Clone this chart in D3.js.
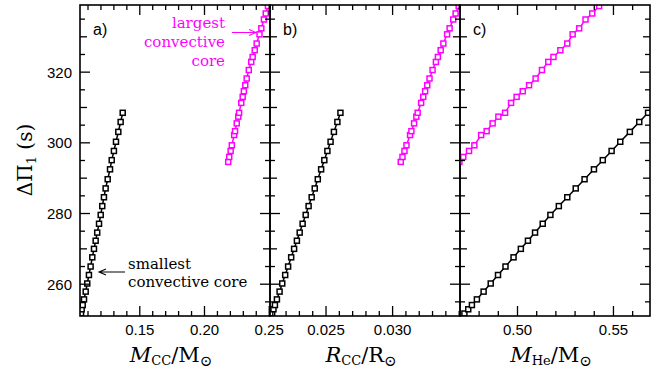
<!DOCTYPE html>
<html>
<head>
<meta charset="utf-8">
<script src="https://cdn.jsdelivr.net/npm/d3@7"></script>
<style>
  body { margin: 0; background: #fff; }
  text { fill: #000; }
</style>
</head>
<body>
<svg id="chart" width="666" height="372"></svg>
<script>
// smallest convective core sequence (black)
const dpiSmall = [251.7, 252.9, 254.1, 255.7, 257.9, 260.2, 262.6, 265.0, 267.6, 270.0, 272.3, 274.6, 277.1,
  279.6, 282.1, 284.6, 287.1, 289.7, 292.5, 295.1, 297.7, 300.3, 303.1, 305.9, 308.5];
const mccSmall = [0.1050, 0.1055, 0.1063, 0.1073, 0.1086, 0.1098, 0.1111, 0.1124, 0.1137, 0.1150, 0.1163, 0.1175, 0.1189,
  0.1202, 0.1214, 0.1227, 0.1240, 0.1256, 0.1274, 0.1287, 0.1304, 0.1320, 0.1338, 0.1356, 0.1372];
const rccSmall = [0.02099, 0.02109, 0.02120, 0.02135, 0.02155, 0.02175, 0.02197, 0.02219, 0.02242, 0.02264, 0.02285, 0.02306, 0.02328,
  0.02351, 0.02373, 0.02396, 0.02419, 0.02442, 0.02467, 0.02491, 0.02514, 0.02538, 0.02563, 0.02589, 0.02612];
const mheSmall = [0.4726, 0.4746, 0.4765, 0.4791, 0.4826, 0.4863, 0.4901, 0.4940, 0.4982, 0.5020, 0.5057, 0.5094, 0.5134,
  0.5174, 0.5218, 0.5262, 0.5306, 0.5352, 0.5401, 0.5447, 0.5493, 0.5538, 0.5588, 0.5637, 0.5683];

// largest convective core sequence (magenta)
const dpiLarge = [294.6, 296.0, 297.7, 299.3, 302.2, 303.3, 305.5, 307.4, 308.5, 311.3, 313.0, 314.6, 316.3,
  318.2, 320.6, 322.9, 324.3, 326.2, 328.1, 330.7, 332.4, 334.9, 336.6, 338.7, 340.8];
const mccLarge = [0.2187, 0.2195, 0.2206, 0.2215, 0.2233, 0.2240, 0.2253, 0.2265, 0.2271, 0.2288, 0.2299, 0.2308, 0.2319,
  0.2330, 0.2346, 0.2365, 0.2376, 0.2392, 0.2407, 0.2429, 0.2443, 0.2463, 0.2477, 0.2494, 0.2511];
const rccLarge = [0.03065, 0.03078, 0.03093, 0.03108, 0.03135, 0.03145, 0.03165, 0.03182, 0.03192, 0.03218, 0.03234, 0.03248, 0.03264,
  0.03281, 0.03304, 0.03329, 0.03344, 0.03365, 0.03385, 0.03413, 0.03432, 0.03459, 0.03477, 0.03500, 0.03523];
const mheLarge = [0.4700, 0.4720, 0.4750, 0.4778, 0.4813, 0.4842, 0.4873, 0.4903, 0.4938, 0.4969, 0.4998, 0.5030, 0.5063,
  0.5097, 0.5130, 0.5163, 0.5190, 0.5226, 0.5262, 0.5290, 0.5324, 0.5357, 0.5392, 0.5428, 0.5448];

const yLabels = [260, 280, 300, 320];
const yDomain = [251, 339];

const panelDefs = [
  {tag: 'a)', key: 'mcc', domain: [0.1042, 0.251], major: [0.15, 0.20, 0.25], minor: [0.11, 0.12, 0.13, 0.14, 0.16, 0.17, 0.18, 0.19, 0.21, 0.22, 0.23, 0.24], fmt: '.2f'},
  {tag: 'b)', key: 'rcc', domain: [0.02083, 0.0351], major: [0.025, 0.030], minor: [0.021, 0.022, 0.023, 0.024, 0.026, 0.027, 0.028, 0.029, 0.031, 0.032, 0.033, 0.034, 0.035], fmt: '.3f'},
  {tag: 'c)', key: 'mhe', domain: [0.4703, 0.5693], major: [0.50, 0.55], minor: [0.48, 0.49, 0.51, 0.52, 0.53, 0.54, 0.56], fmt: '.2f'}
];

const series = [
  {color: '#000000', dpi: dpiSmall, mcc: mccSmall, rcc: rccSmall, mhe: mheSmall},
  {color: '#ff00ff', dpi: dpiLarge, mcc: mccLarge, rcc: rccLarge, mhe: mheLarge}
];

const mLeft = 80, mTop = 5, pw = 190, ph = 311;
const svg = d3.select('#chart');
const sans = "'Liberation Sans', Arial, sans-serif";
const serif = "'DejaVu Serif', serif";

const y = d3.scaleLinear().domain(yDomain).range([mTop + ph, mTop]);
const yMinor = d3.range(255, 340, 5);

panelDefs.forEach((p, i) => {
  const x0 = mLeft + i * pw;
  const x = d3.scaleLinear().domain(p.domain).range([x0, x0 + pw]);

  svg.append('clipPath').attr('id', 'clip' + i)
    .append('rect').attr('x', x0).attr('y', mTop).attr('width', pw).attr('height', ph);

  const g = svg.append('g');
  const plot = g.append('g').attr('clip-path', `url(#clip${i})`);

  series.forEach(s => {
    const pts = s.dpi.map((d, j) => [s[p.key][j], d]);
    plot.append('path')
      .attr('d', d3.line().x(d => x(d[0])).y(d => y(d[1]))(pts))
      .attr('fill', 'none').attr('stroke', s.color).attr('stroke-width', 1.5);
    plot.selectAll(null).data(pts).enter().append('rect')
      .attr('x', d => x(d[0]) - 2.5).attr('y', d => y(d[1]) - 2.5)
      .attr('width', 5).attr('height', 5)
      .attr('fill', '#fff').attr('stroke', s.color).attr('stroke-width', 1.5);
  });

  // x ticks, bottom and top, pointing inward
  const bottom = g.append('g').attr('transform', `translate(0,${mTop + ph})`);
  bottom.call(d3.axisBottom(x).tickValues(p.minor).tickSize(-5).tickFormat(''));
  bottom.append('g').call(d3.axisBottom(x).tickValues(p.major).tickSize(-10).tickPadding(8).tickFormat(d3.format(p.fmt)));
  const topAx = g.append('g').attr('transform', `translate(0,${mTop})`);
  topAx.call(d3.axisTop(x).tickValues(p.minor).tickSize(-5).tickFormat(''));
  topAx.append('g').call(d3.axisTop(x).tickValues(p.major).tickSize(-10).tickFormat(''));

  // y ticks, left and right, pointing inward
  const tickLen = v => (v % 20 === 0 ? 10 : v % 10 === 0 ? 7 : 5);
  g.selectAll(null).data(yMinor).enter().append('line')
    .attr('x1', x0).attr('x2', d => x0 + tickLen(d))
    .attr('y1', d => y(d)).attr('y2', d => y(d)).attr('stroke', '#000').attr('stroke-width', 1.3);
  g.selectAll(null).data(yMinor).enter().append('line')
    .attr('x1', x0 + pw).attr('x2', d => x0 + pw - tickLen(d))
    .attr('y1', d => y(d)).attr('y2', d => y(d)).attr('stroke', '#000').attr('stroke-width', 1.3);

  g.selectAll('.domain').remove();
  g.selectAll('.tick line').attr('stroke-width', 1.3);
  g.selectAll('.tick text').attr('font-family', sans).attr('font-size', 15).attr('fill', '#000');

  g.append('rect').attr('x', x0).attr('y', mTop).attr('width', pw).attr('height', ph)
    .attr('fill', 'none').attr('stroke', '#000').attr('stroke-width', 1.6);

  g.append('text').attr('x', x0 + 13).attr('y', 35).attr('font-family', sans).attr('font-size', 16).text(p.tag);
});

// y tick labels
svg.selectAll(null).data(yLabels).enter().append('text')
  .attr('x', 72).attr('y', d => y(d)).attr('dy', '0.36em').attr('text-anchor', 'end')
  .attr('font-family', sans).attr('font-size', 15).text(d => d);

// y axis title
const yt = svg.append('text').attr('transform', 'translate(32,160) rotate(-90)')
  .attr('text-anchor', 'middle').attr('font-family', serif).attr('font-size', 20);
yt.append('tspan').text('ΔΠ');
yt.append('tspan').attr('font-size', 13).attr('dy', 4).text('1');
yt.append('tspan').attr('dy', -4).text(' (s)');

// x axis titles
const xTitles = [
  {sym: 'M', sub: 'CC', unit: 'M'},
  {sym: 'R', sub: 'CC', unit: 'R'},
  {sym: 'M', sub: 'He', unit: 'M'}
];
xTitles.forEach((t, i) => {
  const tx = svg.append('text').attr('x', mLeft + i * pw + pw / 2 - 4).attr('y', 362)
    .attr('text-anchor', 'middle').attr('font-family', serif).attr('font-size', 21);
  tx.append('tspan').attr('font-style', 'italic').text(t.sym);
  tx.append('tspan').attr('font-size', 13).attr('dy', 3).text(t.sub);
  tx.append('tspan').attr('dy', -3).text('/' + t.unit);
  tx.append('tspan').attr('font-size', 15).attr('dy', 4).text('⊙');
});

// annotations
const largest = svg.append('text').attr('text-anchor', 'end').attr('font-family', serif)
  .attr('font-size', 15).style('fill', '#ff00ff');
['largest', 'convective', 'core'].forEach((s, i) => largest.append('tspan').attr('x', 225).attr('y', 28 + i * 19).text(s));

const smallest = svg.append('text').attr('font-family', serif).attr('font-size', 15);
['smallest', 'convective core'].forEach((s, i) => smallest.append('tspan').attr('x', 128).attr('y', 269 + i * 18).text(s));

function arrow(xa, xb, yy, color) {
  const dir = Math.sign(xb - xa);
  svg.append('path')
    .attr('d', `M${xa},${yy}H${xb}M${xb - dir * 7},${yy - 3}L${xb},${yy}L${xb - dir * 7},${yy + 3}`)
    .attr('fill', 'none').attr('stroke', color).attr('stroke-width', 1.1);
}
arrow(232, 256, 32.5, '#ff00ff');
arrow(125, 99, 272, '#000');
</script>
</body>
</html>
